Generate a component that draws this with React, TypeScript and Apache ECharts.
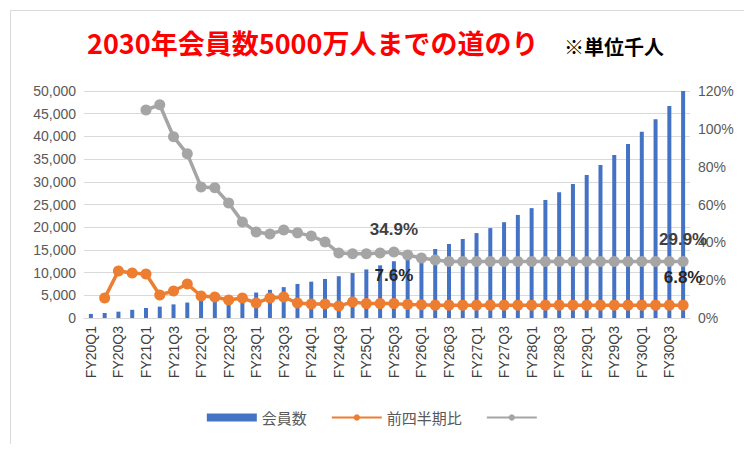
import React, { useEffect, useRef } from 'react';
import * as echarts from 'echarts';

const years = [20, 21, 22, 23, 24, 25, 26, 27, 28, 29, 30];
const categories = years.flatMap(y => [1, 2, 3, 4].map(q => `FY${y}Q${q}`));

const members = [
    0.9, 1.1, 1.4, 1.8, 2.2, 2.5, 3.0, 3.4, 3.9, 4.3, 4.8, 5.2,
    5.6, 6.2, 6.8, 7.5, 8.0, 8.6, 9.2, 9.9, 10.7, 11.6, 12.5, 13.4,
    14.3, 15.2, 16.3, 17.4, 18.7, 19.8, 21.1, 22.7, 24.2, 26.0, 27.7, 29.5,
    31.5, 33.7, 35.9, 38.3, 41.0, 43.8, 46.7, 50.0,
].map(v => v * 1000);

const qoq: (number | null)[] = [
    null, 10.6, 24.9, 23.8, 23.3, 12.2, 14.3, 18.0, 11.6, 11.1, 9.5, 10.6,
    7.9, 10.6, 11.1, 7.9, 7.4, 7.4, 6.3, 8.5, 7.6, 7.6, 7.6, 7.2,
    7.0, 6.8, 6.8, 6.8, 6.8, 6.8, 6.8, 6.8, 6.8, 6.8, 6.8, 6.8,
    6.8, 6.8, 6.8, 6.8, 6.8, 6.8, 6.8, 6.8,
];

const yoy: (number | null)[] = [
    null, null, null, null, 110.0, 112.7, 95.8, 86.8, 69.3, 68.8, 60.8, 50.8,
    45.5, 44.4, 46.5, 45.0, 43.4, 40.2, 34.4, 34.0, 34.0, 34.4, 34.9, 33.3,
    31.7, 30.7, 29.9, 29.9, 29.9, 29.9, 29.9, 29.9, 29.9, 29.9, 29.9, 29.9,
    29.9, 29.9, 29.9, 29.9, 29.9, 29.9, 29.9, 29.9,
];

const labelIdx = [22, 43];

const App: React.FC = () => {
    const chartRef = useRef<HTMLDivElement>(null);

    useEffect(() => {
        if (!chartRef.current) return;
        const chart = echarts.init(chartRef.current, null, { renderer: 'svg' });
        const font = 'Noto Sans CJK JP';
        const pctLabel = (color: string) => ({
            show: true,
            position: 'top' as const,
            fontSize: 17,
            fontWeight: 'bold' as const,
            color,
            distance: 8,
            fontFamily: 'Liberation Sans',
            formatter: (p: any) => (labelIdx.includes(p.dataIndex) ? `${p.value.toFixed(1)}%` : ''),
        });
        chart.setOption({
            animation: false,
            textStyle: { fontFamily: font },
            title: {
                text: '2030年会員数5000万人までの道のり',
                left: 74,
                top: 16,
                textStyle: { color: '#ff0000', fontSize: 27, fontWeight: 'bold', fontFamily: font },
            },
            graphic: [
                {
                    type: 'text', left: 556, top: 28,
                    style: { text: '※単位千人', fontSize: 20, fontWeight: 'bold', fill: '#000', fontFamily: font },
                },
                {
                    type: 'rect', left: 0, top: 0, shape: { width: 734, height: 434 },
                    style: { fill: 'none', stroke: '#d9d9d9', lineWidth: 1 },
                },
            ],
            legend: {
                bottom: 14,
                itemGap: 24,
                textStyle: { fontSize: 15, color: '#595959' },
                data: [
                    { name: '会員数', icon: 'rect' },
                    { name: '前四半期比' },
                    { name: ' ' },
                ],
                itemWidth: 50,
                itemHeight: 8,
            },
            grid: { left: 76, right: 54, top: 83, bottom: 126 },
            xAxis: {
                type: 'category',
                data: categories,
                axisTick: { show: false },
                axisLine: { lineStyle: { color: '#d9d9d9' } },
                axisLabel: { rotate: 90, interval: 1, color: '#404040', fontSize: 14, fontFamily: 'Liberation Sans' },
            },
            yAxis: [
                {
                    type: 'value', min: 0, max: 50000, interval: 5000,
                    axisLabel: { color: '#595959', fontSize: 14, fontFamily: 'Liberation Sans',
                        formatter: (v: number) => v.toLocaleString('en-US') },
                    splitLine: { lineStyle: { color: '#d9d9d9' } },
                },
                {
                    type: 'value', min: 0, max: 120, interval: 20,
                    axisLabel: { color: '#595959', fontSize: 14, fontFamily: 'Liberation Sans', formatter: '{value}%' },
                    splitLine: { show: false },
                },
            ],
            series: [
                {
                    name: '会員数', type: 'bar', data: members, barWidth: 4,
                    itemStyle: { color: '#4472c4' },
                },
                {
                    name: '前四半期比', type: 'line', yAxisIndex: 1, data: qoq,
                    symbol: 'circle', symbolSize: 11, showAllSymbol: true,
                    lineStyle: { color: '#ed7d31', width: 3.5 }, itemStyle: { color: '#ed7d31' },
                    label: { ...pctLabel('#262626'), distance: 14 },
                    labelLayout: { hideOverlap: false },
                },
                {
                    name: ' ', type: 'line', yAxisIndex: 1, data: yoy,
                    symbol: 'circle', symbolSize: 11, showAllSymbol: true,
                    lineStyle: { color: '#a5a5a5', width: 3.5 }, itemStyle: { color: '#a5a5a5' },
                    label: pctLabel('#404040'),
                    labelLayout: { hideOverlap: false },
                },
            ],
        });
        return () => chart.dispose();
    }, []);

    return <div ref={chartRef} style={{ width: '736px', height: '436px' }} />;
};

export default App;
